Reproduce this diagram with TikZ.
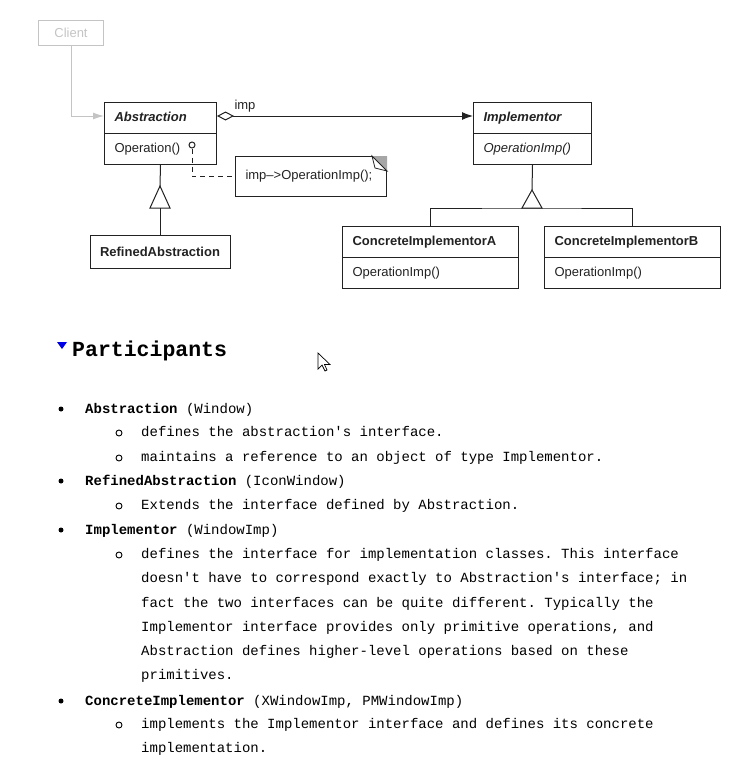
\documentclass[tikz,border=0pt]{standalone}
\usepackage{fontspec}
\setmainfont{Liberation Sans}
\newfontfamily\codefont[Ligatures=TeXOff]{Liberation Mono}
\usetikzlibrary{arrows.meta,shapes.multipart}
\frenchspacing

\definecolor{ink}{HTML}{222222}
\definecolor{faint}{HTML}{C4C4C4}
\definecolor{markblue}{HTML}{0000E6}
\newcommand{\cstrut}{\rule[-3pt]{0pt}{13pt}}

\tikzset{
  uml/.style={draw=ink, line width=1pt, text=ink, font=\fontsize{13}{15}\selectfont},
  classbox/.style={uml, rectangle split, rectangle split parts=2, anchor=north west,
    align=left, inner xsep=10pt, inner ysep=8.5pt},
  link/.style={ink, line width=1pt},
  code/.style={anchor=base west, inner sep=0pt, text=black, font=\codefont\fontsize{14}{16}\selectfont},
  dot/.style={circle, fill=black, inner sep=0pt, minimum size=5pt},
  ring/.style={circle, draw=black, line width=0.9pt, inner sep=0pt, minimum size=6pt}
}

\begin{document}
\begin{tikzpicture}[x=1pt,y=-1pt]
  \useasboundingbox (0,0) rectangle (739,760);

  % classes
  \node[uml, draw=faint, text=faint, anchor=north west, minimum width=65pt, minimum height=25pt, inner sep=0pt] (client) at (38,20) {Client};
  \node[classbox, text width=92pt] (abs) at (104,102) {\cstrut\textbf{\textit{Abstraction}}\nodepart{two}\cstrut Operation()};
  \node[classbox, text width=98pt] (imp) at (473,102) {\cstrut\textbf{\textit{Implementor}}\nodepart{two}\cstrut\textit{OperationImp()}};
  \node[uml, anchor=north, minimum width=140pt, minimum height=33pt, font=\fontsize{13}{15}\selectfont\bfseries] (refined) at (160,235) {RefinedAbstraction};
  \node[classbox, text width=156pt] (cia) at (342,226) {\cstrut\textbf{ConcreteImplementorA}\nodepart{two}\cstrut OperationImp()};
  \node[classbox, text width=156pt] (cib) at (544,226) {\cstrut\textbf{ConcreteImplementorB}\nodepart{two}\cstrut OperationImp()};

  % note with folded corner
  \node[uml, anchor=north west, minimum width=151pt, minimum height=40pt, text width=131pt, align=left, inner xsep=10pt] (note) at (235,156) {imp--{}>OperationImp();};
  \fill[gray!70] ([xshift=-15pt]note.north east) -- (note.north east) -- ([yshift=-15pt]note.north east) -- cycle;
  \draw[ink, line width=0.8pt, fill=white] ([xshift=-15pt]note.north east) -- ([xshift=-12pt,yshift=-12pt]note.north east) -- ([yshift=-15pt]note.north east) -- cycle;

  % client and aggregation
  \draw[faint, line width=1pt, -{Latex[length=11pt,width=7pt]}] (client.south) |- ([yshift=-14pt]abs.north west);
  \draw[link, {Diamond[open,length=17pt,width=9pt]}-{Latex[length=11pt,width=8pt]}] ([yshift=-14pt]abs.north east)
    -- node[pos=0, anchor=base west, xshift=17pt, yshift=7pt, inner sep=0pt, text=ink, font=\fontsize{13}{15}\selectfont] (implabel) {imp} ([yshift=-14pt]imp.north west);

  % operation comment
  \node[circle, draw=ink, line width=1pt, inner sep=0pt, minimum size=6pt] (opdot) at (192,145) {};
  \draw[link, dash pattern=on 5pt off 4pt] (opdot) |- (note.west);

  % generalisations
  \coordinate (absgen) at (160,208);
  \draw[link] (abs.south) -- ([yshift=22pt]absgen);
  \draw[link, fill=white] ([xshift=-10pt]absgen) -- ([yshift=22pt]absgen) -- ([xshift=10pt]absgen) -- cycle;
  \draw[link] (absgen) -- (refined.north);

  \coordinate (impgen) at (532,208);
  \draw[link] (imp.south) -- ([yshift=18pt]impgen);
  \draw[link] (cia.north) |- (impgen) -| (cib.north);
  \draw[link, fill=white] ([xshift=-10pt]impgen) -- ([yshift=18pt]impgen) -- ([xshift=10pt]impgen) -- cycle;

  % participants
  \fill[markblue] (57,342) -- (67,342) -- (62,349) -- cycle;
  \node[anchor=base west, inner sep=0pt, font=\codefont\bfseries\fontsize{21.5}{24}\selectfont] (parts) at (72,356) {Participants};
  \draw[black, fill=white, line width=0.7pt, line join=miter] (318,353) -- ++(0,16) -- ++(4,-4) -- ++(3,6) -- ++(2,-1) -- ++(-2.5,-5.5) -- ++(5.5,0) -- cycle;

  \foreach \y/\t [count=\i] in {413/{\textbf{Abstraction} (Window)},
      485/{\textbf{RefinedAbstraction} (IconWindow)},
      534/{\textbf{Implementor} (WindowImp)},
      705/{\textbf{ConcreteImplementor} (XWindowImp, PMWindowImp)}}{
    \node[dot] (item\i) at (61,\y-4) {};
    \node[code] (itemtext\i) at (85,\y) {\t};
  }
  \foreach \y/\t [count=\i] in {436/{defines the abstraction's interface.},
      461/{maintains a reference to an object of type Implementor.},
      509/{Extends the interface defined by Abstraction.},
      558/{defines the interface for implementation classes. This interface},
      728/{implements the Implementor interface and defines its concrete}}{
    \node[ring] (sub\i) at (119,\y-3) {};
    \node[code] (subtext\i) at (141,\y) {\t};
  }
  \foreach \y/\t [count=\i] in {582/{doesn't have to correspond exactly to Abstraction's interface; in},
      607/{fact the two interfaces can be quite different. Typically the},
      631/{Implementor interface provides only primitive operations, and},
      655/{Abstraction defines higher-level operations based on these},
      679/{primitives.},
      752/{implementation.}}{
    \node[code] (cont\i) at (141,\y) {\t};
  }
\end{tikzpicture}
\end{document}
